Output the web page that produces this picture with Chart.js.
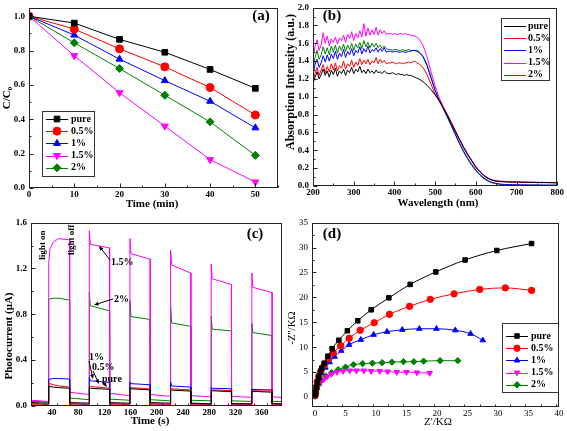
<!DOCTYPE html>
<html>
<head>
<meta charset="utf-8">
<script src="https://cdn.jsdelivr.net/npm/chart.js@4.4.0/dist/chart.umd.min.js"></script>
<style>
body { margin: 0; background: #fff; width: 567px; height: 431px; position: relative; overflow: hidden; }
canvas { position: absolute; }
#chartA { left: 0; top: 0; }
#chartB { left: 283px; top: 0; }
#chartC { left: 0; top: 215px; }
#chartD { left: 283px; top: 215px; }
</style>
</head>
<body>
<canvas id="chartA" width="283" height="215"></canvas>
<canvas id="chartB" width="284" height="215"></canvas>
<canvas id="chartC" width="283" height="216"></canvas>
<canvas id="chartD" width="284" height="216"></canvas>
<script>
// sample names (same order in every panel)
const samples = ["pure", "0.5%", "1%", "1.5%", "2%"];

// (a) C/C0 vs time
const timeMin = [0, 10, 20, 30, 40, 50];
const degPure = [1.0, 0.96, 0.865, 0.79, 0.69, 0.58];
const deg05 = [1.0, 0.925, 0.81, 0.705, 0.585, 0.425];
const deg1 = [1.0, 0.89, 0.75, 0.625, 0.505, 0.35];
const deg15 = [1.0, 0.77, 0.555, 0.36, 0.165, 0.035];
const deg2 = [1.0, 0.845, 0.695, 0.54, 0.385, 0.19];

// (b) absorption spectra (5 nm steps to 460, then 10 nm)
const wavelength = [200, 205, 210, 215, 220, 225, 230, 235, 240, 245,
  250, 255, 260, 265, 270, 275, 280, 285, 290, 295,
  300, 305, 310, 315, 320, 325, 330, 335, 340, 345,
  350, 355, 360, 365, 370, 375, 380,
  385, 390, 395, 400, 405, 410, 415, 420, 425, 430, 435, 440, 445, 450, 455, 460,
  470, 480, 490, 500, 510, 520, 530, 540, 550, 560, 570, 580, 590, 600, 610, 620, 630, 640, 650, 660,
  670, 680, 690, 700, 710, 720, 730, 740, 750, 760, 770, 780, 790, 800];
const absPure = [1.15, 1.22, 1.28, 1.20, 1.25, 1.31, 1.24, 1.29, 1.22, 1.30,
  1.25, 1.32, 1.23, 1.29, 1.26, 1.31, 1.24, 1.30, 1.27, 1.33,
  1.26, 1.31, 1.28, 1.34, 1.27, 1.30, 1.26, 1.31, 1.27, 1.29,
  1.26, 1.30, 1.27, 1.28, 1.26, 1.29, 1.27,
  1.26, 1.26, 1.27, 1.26, 1.25, 1.26, 1.25, 1.25, 1.24, 1.25, 1.24, 1.24, 1.23, 1.22, 1.21, 1.20,
  1.17, 1.13, 1.08, 1.02, 0.96, 0.88, 0.79, 0.70, 0.61, 0.52, 0.43, 0.35, 0.28, 0.21, 0.16, 0.115, 0.085, 0.065, 0.055, 0.05,
  0.047, 0.045, 0.044, 0.043, 0.042, 0.041, 0.04, 0.04, 0.039, 0.038, 0.038, 0.037, 0.036, 0.035];
const abs05 = [1.18, 1.26, 1.33, 1.24, 1.30, 1.36, 1.27, 1.34, 1.28, 1.37,
  1.30, 1.38, 1.29, 1.35, 1.32, 1.40, 1.31, 1.37, 1.34, 1.41,
  1.33, 1.39, 1.35, 1.43, 1.36, 1.41, 1.37, 1.42, 1.36, 1.40,
  1.38, 1.44, 1.37, 1.42, 1.38, 1.41, 1.37,
  1.38, 1.38, 1.39, 1.38, 1.37, 1.38, 1.38, 1.37, 1.38, 1.38, 1.39, 1.38, 1.39, 1.40, 1.38, 1.37,
  1.33, 1.25, 1.14, 1.03, 0.95, 0.88, 0.80, 0.71, 0.61, 0.52, 0.43, 0.35, 0.28, 0.21, 0.16, 0.115, 0.085, 0.065, 0.055, 0.05,
  0.048, 0.046, 0.045, 0.044, 0.043, 0.042, 0.041, 0.04, 0.04, 0.039, 0.039, 0.038, 0.038, 0.037];
const abs1 = [1.25, 1.36, 1.42, 1.33, 1.38, 1.46, 1.39, 1.47, 1.40, 1.48,
  1.43, 1.51, 1.42, 1.49, 1.45, 1.53, 1.44, 1.51, 1.47, 1.54,
  1.46, 1.52, 1.49, 1.56, 1.48, 1.54, 1.50, 1.57, 1.49, 1.53,
  1.51, 1.55, 1.50, 1.54, 1.51, 1.55, 1.50,
  1.51, 1.51, 1.50, 1.51, 1.51, 1.50, 1.50, 1.51, 1.50, 1.50, 1.51, 1.51, 1.52, 1.52, 1.51, 1.50,
  1.45, 1.35, 1.21, 1.07, 0.96, 0.87, 0.78, 0.68, 0.58, 0.48, 0.39, 0.31, 0.24, 0.18, 0.13, 0.09, 0.06, 0.04, 0.03, 0.022,
  0.018, 0.016, 0.015, 0.014, 0.013, 0.013, 0.012, 0.012, 0.011, 0.011, 0.01, 0.01, 0.01, 0.01];
const abs15 = [1.45, 1.56, 1.64, 1.52, 1.58, 1.72, 1.60, 1.68, 1.57, 1.65,
  1.61, 1.67, 1.59, 1.66, 1.63, 1.69, 1.61, 1.70, 1.65, 1.73,
  1.63, 1.71, 1.66, 1.74, 1.67, 1.82, 1.68, 1.77, 1.69, 1.75,
  1.70, 1.78, 1.69, 1.75, 1.71, 1.74, 1.70,
  1.71, 1.71, 1.70, 1.71, 1.70, 1.70, 1.71, 1.70, 1.71, 1.70, 1.70, 1.69, 1.69, 1.68, 1.67, 1.65,
  1.58, 1.45, 1.28, 1.12, 0.99, 0.89, 0.80, 0.71, 0.62, 0.53, 0.44, 0.36, 0.29, 0.22, 0.165, 0.12, 0.09, 0.07, 0.06, 0.055,
  0.052, 0.05, 0.048, 0.047, 0.046, 0.045, 0.044, 0.043, 0.042, 0.041, 0.04, 0.04, 0.039, 0.038];
const abs2 = [1.30, 1.44, 1.52, 1.42, 1.47, 1.56, 1.48, 1.55, 1.47, 1.57,
  1.50, 1.58, 1.49, 1.57, 1.52, 1.59, 1.51, 1.58, 1.53, 1.60,
  1.52, 1.59, 1.55, 1.61, 1.54, 1.63, 1.56, 1.61, 1.55, 1.60,
  1.56, 1.60, 1.55, 1.58, 1.54, 1.57, 1.54,
  1.53, 1.53, 1.52, 1.53, 1.53, 1.52, 1.52, 1.53, 1.52, 1.52, 1.53, 1.52, 1.52, 1.52, 1.52, 1.51,
  1.46, 1.36, 1.22, 1.07, 0.96, 0.87, 0.77, 0.67, 0.57, 0.47, 0.38, 0.30, 0.23, 0.17, 0.12, 0.08, 0.055, 0.035, 0.025, 0.018,
  0.015, 0.013, 0.012, 0.011, 0.01, 0.01, 0.009, 0.009, 0.008, 0.008, 0.008, 0.008, 0.008, 0.008];

// (c) photocurrent, light on/off cycles
const timeSec = [8, 34.8, 35, 37, 42, 50, 66.8, 67,
  96.8, 97, 98.5, 127.8, 128,
  158.8, 159, 160.5, 189.8, 190,
  220.8, 221, 222.5, 251.8, 252,
  282.8, 283, 284.5, 313.8, 314,
  344.8, 345, 346.5, 375.8, 376,
  390];
const ipPure = [0.03, 0.025, 0.175, 0.17, 0.165, 0.16, 0.155, 0.03,
  0.025, 0.16, 0.155, 0.145, 0.03,
  0.025, 0.155, 0.15, 0.14, 0.03,
  0.025, 0.14, 0.138, 0.13, 0.025,
  0.02, 0.135, 0.133, 0.125, 0.02,
  0.02, 0.13, 0.128, 0.12, 0.02,
  0.02];
const ip05 = [0.01, 0.01, 0.20, 0.195, 0.185, 0.175, 0.165, 0.01,
  0.01, 0.175, 0.17, 0.155, 0.01,
  0.01, 0.165, 0.16, 0.15, 0.01,
  0.01, 0.155, 0.15, 0.14, 0.01,
  0.01, 0.145, 0.14, 0.135, 0.01,
  0.01, 0.135, 0.133, 0.13, 0.01,
  0.01];
const ip1 = [0.02, 0.015, 0.23, 0.235, 0.24, 0.24, 0.235, 0.02,
  0.015, 0.25, 0.22, 0.205, 0.02,
  0.015, 0.21, 0.195, 0.185, 0.02,
  0.015, 0.21, 0.175, 0.165, 0.02,
  0.015, 0.165, 0.155, 0.15, 0.02,
  0.015, 0.15, 0.145, 0.14, 0.02,
  0.015];
const ip15 = [0.05, 0.04, 1.25, 1.37, 1.43, 1.46, 1.45, 0.12,
  0.10, 1.53, 1.41, 1.38, 0.11,
  0.09, 1.46, 1.33, 1.28, 0.10,
  0.085, 1.36, 1.23, 1.16, 0.09,
  0.08, 1.24, 1.11, 1.06, 0.085,
  0.075, 1.16, 1.035, 0.99, 0.08,
  0.075];
const ip2 = [0.04, 0.035, 0.93, 0.935, 0.94, 0.94, 0.925, 0.07,
  0.055, 0.99, 0.875, 0.83, 0.06,
  0.05, 0.92, 0.78, 0.755, 0.055,
  0.045, 0.88, 0.725, 0.695, 0.05,
  0.045, 0.785, 0.67, 0.655, 0.045,
  0.04, 0.72, 0.64, 0.615, 0.04,
  0.04];

// (d) Nyquist plots, Z' and -Z'' in kOhm
const zrePure = [0, 0.1, 0.25, 0.4, 0.6, 0.85, 1.1, 1.5, 2.1, 2.8, 3.9, 5.3, 7.0, 9.2, 12.1, 15.6, 19.8, 24.6, 29.8, 35.5];
const zimPure = [0.3, 1.0, 2.0, 3.0, 4.0, 5.0, 5.8, 6.8, 8.2, 9.7, 11.4, 13.3, 15.3, 17.5, 19.9, 22.6, 25.1, 27.5, 29.4, 30.8];
const zre05 = [0, 0.1, 0.2, 0.35, 0.6, 1.0, 1.5, 2.2, 3.0, 4.2, 5.6, 7.4, 9.7, 12.2, 15.5, 18.9, 22.8, 27.0, 31.2, 35.5];
const zim05 = [0.3, 1.0, 2.0, 3.1, 4.2, 5.3, 6.4, 7.7, 8.9, 10.3, 11.8, 13.4, 14.9, 16.6, 18.2, 19.6, 20.7, 21.6, 21.9, 21.4];
const zre1 = [0, 0.1, 0.2, 0.4, 0.7, 1.1, 1.7, 2.4, 3.2, 4.3, 5.6, 7.5, 9.6, 11.8, 14.3, 17.1, 19.9, 23.0, 25.5, 27.5];
const zim1 = [0.2, 0.9, 1.8, 2.8, 3.8, 4.8, 5.9, 7.0, 8.1, 9.3, 10.5, 11.5, 12.5, 13.1, 13.5, 13.7, 13.7, 13.4, 12.7, 11.4];
const zre15 = [0, 0.1, 0.4, 0.8, 1.4, 2.0, 2.7, 3.6, 4.6, 5.7, 6.8, 8.0, 9.2, 10.6, 11.9, 13.4, 15.0, 16.7, 18.8];
const zim15 = [0.2, 1.0, 2.0, 2.8, 3.5, 4.1, 4.6, 5.0, 5.2, 5.3, 5.3, 5.3, 5.2, 5.2, 5.1, 5.0, 5.0, 4.9, 4.8];
const zre2 = [0, 0.1, 0.3, 0.6, 1.1, 1.8, 2.7, 3.8, 5.0, 6.3, 7.8, 9.4, 11.0, 12.6, 14.5, 16.2, 17.8, 20.5, 23.4];
const zim2 = [0.2, 0.8, 1.6, 2.5, 3.4, 4.2, 4.9, 5.5, 6.0, 6.5, 6.7, 6.8, 6.9, 7.0, 7.1, 7.1, 7.2, 7.3, 7.3];

// axis tick labels
const ticksA_x = [0, 10, 20, 30, 40, 50];
const ticksA_y = [0, 0.2, 0.4, 0.6, 0.8, 1.0];
const ticksB_x = [200, 300, 400, 500, 600, 700, 800];
const ticksB_y = [0, 0.2, 0.4, 0.6, 0.8, 1.0, 1.2, 1.4, 1.6, 1.8, 2.0];
const ticksC_x = [40, 80, 120, 160, 200, 240, 280, 320, 360];
const ticksC_y = [0, 0.4, 0.8, 1.2, 1.6];
const ticksD_x = [0, 5, 10, 15, 20, 25, 30, 35, 40];
const ticksD_y = [0, 5, 10, 15, 20, 25, 30, 35];


// styles
const SERIF = "'Liberation Serif', 'Times New Roman', serif";
const colors = ["#000000", "#ff0000", "#0000ff", "#ff00ff", "#008000"];
const marks = [
  { style: "rect", rot: 0 },
  { style: "circle", rot: 0 },
  { style: "triangle", rot: 0 },
  { style: "triangle", rot: 180 },
  { style: "rectRot", rot: 0 }
];


function drawText(ctx, t) {
  ctx.save();
  ctx.translate(t.x, t.y);
  if (t.rotate) ctx.rotate(t.rotate);
  const main = (t.bold === false ? "" : "bold ") + t.size + "px " + SERIF;
  ctx.fillStyle = "#000";
  ctx.textBaseline = "middle";
  ctx.font = main;
  if (t.sub) {
    const sub = (t.bold === false ? "" : "bold ") + Math.round(t.size * 0.65) + "px " + SERIF;
    const w1 = ctx.measureText(t.text).width;
    ctx.font = sub;
    const w2 = ctx.measureText(t.sub).width;
    const x0 = -(w1 + w2) / 2;
    ctx.textAlign = "left";
    ctx.font = main;
    ctx.fillText(t.text, x0, 0);
    ctx.font = sub;
    ctx.fillText(t.sub, x0 + w1, t.size * 0.3);
  } else {
    ctx.textAlign = t.align || "center";
    ctx.fillText(t.text, 0, 0);
  }
  ctx.restore();
}

function drawArrow(ctx, x1, y1, x2, y2) {
  const ang = Math.atan2(y2 - y1, x2 - x1);
  ctx.save();
  ctx.strokeStyle = "#000";
  ctx.fillStyle = "#000";
  ctx.lineWidth = 1;
  ctx.beginPath();
  ctx.moveTo(x1, y1);
  ctx.lineTo(x2 - Math.cos(ang) * 3, y2 - Math.sin(ang) * 3);
  ctx.stroke();
  ctx.beginPath();
  ctx.moveTo(x2, y2);
  ctx.lineTo(x2 - Math.cos(ang - 0.4) * 5, y2 - Math.sin(ang - 0.4) * 5);
  ctx.lineTo(x2 - Math.cos(ang + 0.4) * 5, y2 - Math.sin(ang + 0.4) * 5);
  ctx.closePath();
  ctx.fill();
  ctx.restore();
}

function drawLegend(ctx, lg) {
  const [l, t, r, b] = lg.box;
  ctx.save();
  ctx.strokeStyle = "#333";
  ctx.lineWidth = 1;
  ctx.strokeRect(l + 0.5, t + 0.5, r - l, b - t);
  samples.forEach((name, i) => {
    const y = lg.y0 + i * lg.dy;
    ctx.strokeStyle = colors[i];
    ctx.fillStyle = colors[i];
    ctx.lineWidth = 1;
    ctx.beginPath();
    ctx.moveTo(lg.x1, Math.round(y) + 0.5);
    ctx.lineTo(lg.x2, Math.round(y) + 0.5);
    ctx.stroke();
    if (lg.radius) {
      Chart.helpers.drawPoint(ctx, { pointStyle: marks[i].style, rotation: marks[i].rot, radius: lg.radius, borderWidth: 1 }, (lg.x1 + lg.x2) / 2, y);
    }
    drawText(ctx, { text: name, x: lg.tx, y: y, size: lg.size, align: "left" });
  });
  ctx.restore();
}

// frame, inward ticks, titles, legend and arrows
const panelPlugin = {
  id: "panel",
  afterDatasetsDraw(chart, args, o) {
    const ctx = chart.ctx;
    const a = chart.chartArea;
    const xs = chart.scales.x;
    const ys = chart.scales.y;
    const L = Math.round(a.left) + 0.5, R = Math.round(a.right) - 0.5;
    const T = Math.round(a.top) + 0.5, B = Math.round(a.bottom) - 0.5;
    ctx.save();
    ctx.strokeStyle = "#222";
    ctx.lineWidth = 1;
    ctx.strokeRect(L, T, R - L, B - T);
    ctx.beginPath();
    for (let v = xs.min; v <= xs.max + 1e-9; v += o.xMinor) {
      const p = Math.round(xs.getPixelForValue(v)) + 0.5;
      const major = o.xMajor.some(m => Math.abs(m - v) < 1e-6);
      ctx.moveTo(p, B);
      ctx.lineTo(p, B - (major ? 4 : 2));
    }
    for (let v = o.yStart; v <= ys.max + 1e-9; v += o.yMinor) {
      const p = Math.round(ys.getPixelForValue(v)) + 0.5;
      const major = o.yMajor.some(m => Math.abs(m - v) < 1e-6);
      ctx.moveTo(L, p);
      ctx.lineTo(L + (major ? 4 : 2), p);
    }
    ctx.stroke();
    (o.texts || []).forEach(t => drawText(ctx, t));
    if (o.legend) drawLegend(ctx, o.legend);
    (o.arrows || []).forEach(ar => drawArrow(ctx, ar[0], ar[1], ar[2], ar[3]));
    ctx.restore();
  }
};

function axis(ax, fit, bold) {
  return {
    type: "linear",
    min: ax.min,
    max: ax.max,
    grid: { display: false, drawTicks: false },
    border: { display: false },
    afterBuildTicks: s => { s.ticks = ax.ticks.map(v => ({ value: v })); },
    afterFit: fit,
    ticks: {
      autoSkip: false,
      maxRotation: 0,
      padding: ax.pad,
      color: "#000",
      font: { family: SERIF, size: 9, weight: bold ? "bold" : "normal", lineHeight: 0.8 },
      callback: v => ax.fmt(v)
    }
  };
}

function panelChart(id, W, H, area, xAx, yAx, datasets, deco, bold) {
  return new Chart(document.getElementById(id), {
    type: "line",
    data: { datasets: datasets },
    options: {
      responsive: false,
      animation: false,
      devicePixelRatio: 1,
      layout: { padding: { left: 0, top: area.top, right: W - area.right, bottom: 0 } },
      scales: {
        x: axis(xAx, s => { s.height = H - area.bottom; }, bold),
        y: axis(yAx, s => { s.width = area.left; }, bold)
      },
      plugins: { legend: { display: false }, tooltip: { enabled: false }, panel: deco }
    },
    plugins: [panelPlugin]
  });
}

const fix1 = v => v.toFixed(1);
const fix0 = v => String(v);


// ---- (a)
const aSeries = [degPure, deg05, deg1, deg15, deg2];
panelChart("chartA", 283, 215, { left: 29, right: 279, top: 3, bottom: 188 },
  { min: 0, max: 55, ticks: ticksA_x, fmt: fix0, pad: 3 },
  { min: 0, max: 1.05, ticks: ticksA_y, fmt: fix1, pad: 4 },
  aSeries.map((arr, i) => ({
    label: samples[i],
    data: timeMin.map((t, k) => ({ x: t, y: arr[k] })),
    borderColor: colors[i],
    backgroundColor: colors[i],
    borderWidth: 1,
    pointStyle: marks[i].style,
    pointRotation: marks[i].rot,
    pointRadius: 4,
    pointBorderWidth: 1
  })),
  {
    xMajor: ticksA_x, xMinor: 5, yMajor: ticksA_y, yMinor: 0.1, yStart: 0,
    texts: [
      { text: "C/C", sub: "0", x: 7, y: 98, size: 11, rotate: -Math.PI / 2 },
      { text: "Time (min)", x: 152, y: 204, size: 11 },
      { text: "(a)", x: 261, y: 16, size: 15 }
    ],
    legend: { box: [42, 111, 94, 176], y0: 119, dy: 12.2, x1: 46, x2: 68, tx: 71, size: 10, radius: 4 }
  }, true);

// ---- (b)
const bSeries = [absPure, abs05, abs1, abs15, abs2];
panelChart("chartB", 284, 215, { left: 30, right: 276, top: 4, bottom: 186 },
  { min: 200, max: 800, ticks: ticksB_x, fmt: fix0, pad: 3 },
  { min: 0, max: 2.0, ticks: ticksB_y, fmt: fix1, pad: 4 },
  bSeries.map((arr, i) => ({
    label: samples[i],
    data: wavelength.map((w, k) => ({ x: w, y: arr[k] })),
    borderColor: colors[i],
    borderWidth: 1,
    pointRadius: 0
  })),
  {
    xMajor: ticksB_x, xMinor: 50, yMajor: ticksB_y, yMinor: 0.1, yStart: 0,
    texts: [
      { text: "Absorption Intensity (a.u.)", x: 8, y: 82, size: 12, rotate: -Math.PI / 2 },
      { text: "Wavelength (nm)", x: 155, y: 203, size: 11 },
      { text: "(b)", x: 49, y: 16, size: 15 }
    ],
    legend: { box: [218, 18, 266, 80], y0: 26, dy: 12.2, x1: 221, x2: 243, tx: 245, size: 10, radius: 0 }
  }, true);

// ---- (c)
const cSeries = [ipPure, ip05, ip1, ip15, ip2];
panelChart("chartC", 283, 216, { left: 31, right: 282, top: 7, bottom: 191 },
  { min: 8, max: 391, ticks: ticksC_x, fmt: fix0, pad: 3 },
  { min: 0, max: 1.6, ticks: ticksC_y, fmt: fix1, pad: 4 },
  cSeries.map((arr, i) => ({
    label: samples[i],
    data: timeSec.map((t, k) => ({ x: t, y: arr[k] })),
    borderColor: colors[i],
    borderWidth: 1,
    pointRadius: 0
  })),
  {
    xMajor: ticksC_x, xMinor: 20, yMajor: ticksC_y, yMinor: 0.2, yStart: 0,
    texts: [
      { text: "Photocurrent (\u03bcA)", x: 9, y: 121, size: 11, rotate: -Math.PI / 2 },
      { text: "Time (s)", x: 150, y: 206, size: 11 },
      { text: "(c)", x: 255, y: 19, size: 15 },
      { text: "light on", x: 43, y: 30, size: 9, rotate: -Math.PI / 2 },
      { text: "light off", x: 72, y: 25, size: 9, rotate: -Math.PI / 2 },
      { text: "1.5%", x: 111, y: 47, size: 10, align: "left" },
      { text: "2%", x: 114, y: 84, size: 10, align: "left" },
      { text: "1%", x: 89, y: 142, size: 10, align: "left" },
      { text: "0.5%", x: 92, y: 152, size: 10, align: "left" },
      { text: "pure", x: 102, y: 164, size: 10, align: "left" }
    ],
    arrows: [[110, 45, 99, 31], [113, 84, 94, 90], [89, 146, 93, 164], [93, 156, 99, 169], [103, 167, 107, 172]]
  }, true);

// ---- (d)
const dSeries = [[zrePure, zimPure], [zre05, zim05], [zre1, zim1], [zre15, zim15], [zre2, zim2]];
panelChart("chartD", 284, 216, { left: 29, right: 276, top: 5, bottom: 192 },
  { min: -0.5, max: 40, ticks: ticksD_x, fmt: fix0, pad: 3 },
  { min: -2, max: 35, ticks: ticksD_y, fmt: fix0, pad: 4 },
  dSeries.map((pair, i) => ({
    label: samples[i],
    data: pair[0].map((zr, k) => ({ x: zr, y: pair[1][k] })),
    borderColor: colors[i],
    backgroundColor: colors[i],
    borderWidth: 1,
    cubicInterpolationMode: "monotone",
    pointStyle: marks[i].style,
    pointRotation: marks[i].rot,
    pointRadius: 3.2,
    pointBorderWidth: 1
  })),
  {
    xMajor: ticksD_x, xMinor: 2.5, yMajor: ticksD_y, yMinor: 2.5, yStart: 0,
    texts: [
      { text: "-Z''/K\u03a9", x: 9, y: 113, size: 11, bold: false, rotate: -Math.PI / 2 },
      { text: "Z'/K\u03a9", x: 155, y: 207, size: 11, bold: false },
      { text: "(d)", x: 49, y: 19, size: 15 }
    ],
    legend: { box: [219, 108, 275, 177], y0: 121, dy: 12.2, x1: 223, x2: 245, tx: 248, size: 10, radius: 3.2 }
  }, false);
</script>
</body>
</html>
